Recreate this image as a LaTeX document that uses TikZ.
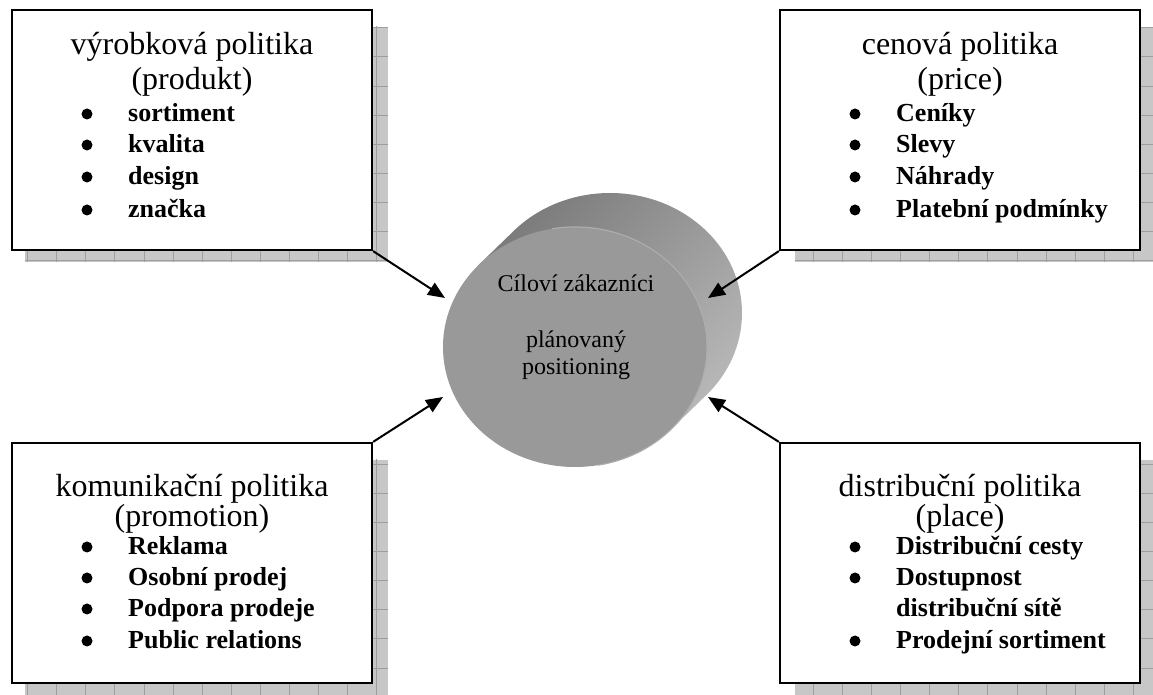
\documentclass[tikz,border=0pt]{standalone}
\usepackage{fontspec}
\setmainfont{Liberation Serif}
\usetikzlibrary{arrows.meta,calc}
\begin{document}
\begin{tikzpicture}[x=1pt,y=1pt,
  boxnode/.style={draw=black,line width=2.2pt,fill=white,minimum width=360pt,minimum height=240pt,inner sep=0pt},
  shadowfill/.style={fill=black!22},
  gridln/.style={draw=black!38,line width=0.8pt},
  title/.style={anchor=base,inner sep=0pt,font=\fontsize{32}{38}\selectfont},
  item/.style={anchor=base west,inner sep=0pt,font=\fontsize{26}{31}\selectfont\bfseries},
  dot/.style={circle,fill=black,inner sep=0pt,minimum size=11pt,yshift=8pt},
  cyltext/.style={anchor=base,inner sep=0pt,font=\fontsize{24}{28}\selectfont},
  arr/.style={line width=2pt,-{Triangle[length=17pt,width=14pt]}}]
\useasboundingbox (0,0) rectangle (1153,695);

% shadows
\foreach \sx/\sy/\ex/\ey in {25/433/388/668, 795/433/1156/668, 25/0/388/235, 795/0/1156/235}{
  \fill[shadowfill] (\sx,\sy) rectangle (\ex,\ey);
  \begin{scope}
    \clip (\sx,\sy) rectangle (\ex,\ey);
    \begin{scope}[shift={(27.5,27)}]
      \draw[gridln] (-29.1,-29.1) grid[step=29.1] (1200,720);
    \end{scope}
  \end{scope}
}

% boxes
\node[boxnode] (tl) at (192,565) {};
\node[boxnode] (tr) at (960,565) {};
\node[boxnode] (bl) at (192,132) {};
\node[boxnode] (br) at (960,132) {};

% cylinder
\coordinate (F) at (575,348);
\coordinate (B) at (610,382);
\shade[top color=black!52, bottom color=black!28, shading angle=45]
  ($(F)+(137.7:132 and 120)$) -- ($(B)+(137.7:132 and 120)$)
  arc[start angle=137.7, end angle=-42.3, x radius=132, y radius=120]
  -- ($(F)+(-42.3:132 and 120)$) -- cycle;
\fill[black!40] (F) ellipse[x radius=132, y radius=120];
\draw[black!32,line width=1.2pt] ($(F)+(100:132 and 120)$) arc[start angle=100, end angle=-80, x radius=132, y radius=120];
\fill[black!40] (F) ellipse[x radius=131, y radius=119];

\node[cyltext] (c1) at (576,403) {Cíloví zákazníci};
\node[cyltext] (c2) at (576,347) {plánovaný};
\node[cyltext] (c3) at (576,320) {positioning};

\coordinate (tipTL) at (445,397);
\coordinate (tipTR) at (708,397);
\coordinate (tipBL) at (443,298);
\coordinate (tipBR) at (708,298);

% top-left text
\node[title] (tlt1) at (192,640) {výrobková politika};
\node[title] (tlt2) at (192,605) {(produkt)};
\foreach \y/\t [count=\i] in {573/sortiment,542/kvalita,510/design,477/značka}{
  \node[dot] (tld\i) at (87,\y) {};
  \node[item] (tli\i) at (128,\y) {\t};
}
% top-right text
\node[title] (trt1) at (960,640) {cenová politika};
\node[title] (trt2) at (960,605) {(price)};
\foreach \y/\t [count=\i] in {573/Ceníky,542/Slevy,510/Náhrady,477/Platební podmínky}{
  \node[dot] (trd\i) at (855,\y) {};
  \node[item] (tri\i) at (896,\y) {\t};
}
% bottom-left text
\node[title] (blt1) at (192,198) {komunikační politika};
\node[title] (blt2) at (192,168) {(promotion)};
\foreach \y/\t [count=\i] in {140/Reklama,109/Osobní prodej,78/Podpora prodeje,46/Public relations}{
  \node[dot] (bld\i) at (87,\y) {};
  \node[item] (bli\i) at (128,\y) {\t};
}
% bottom-right text
\node[title] (brt1) at (960,198) {distribuční politika};
\node[title] (brt2) at (960,168) {(place)};
\node[dot] (brd1) at (855,140) {};
\node[item] (bri1) at (896,140) {Distribuční cesty};
\node[dot] (brd2) at (855,109) {};
\node[item] (bri2) at (896,109) {Dostupnost};
\node[item] (bri3) at (896,78) {distribuční sítě};
\node[dot] (brd4) at (855,46) {};
\node[item] (bri4) at (896,46) {Prodejní sortiment};

% arrows
\draw[arr] (tl.south east) -- (tipTL);
\draw[arr] (tr.south west) -- (tipTR);
\draw[arr] (bl.north east) -- (tipBL);
\draw[arr] (br.north west) -- (tipBR);
\end{tikzpicture}
\end{document}
